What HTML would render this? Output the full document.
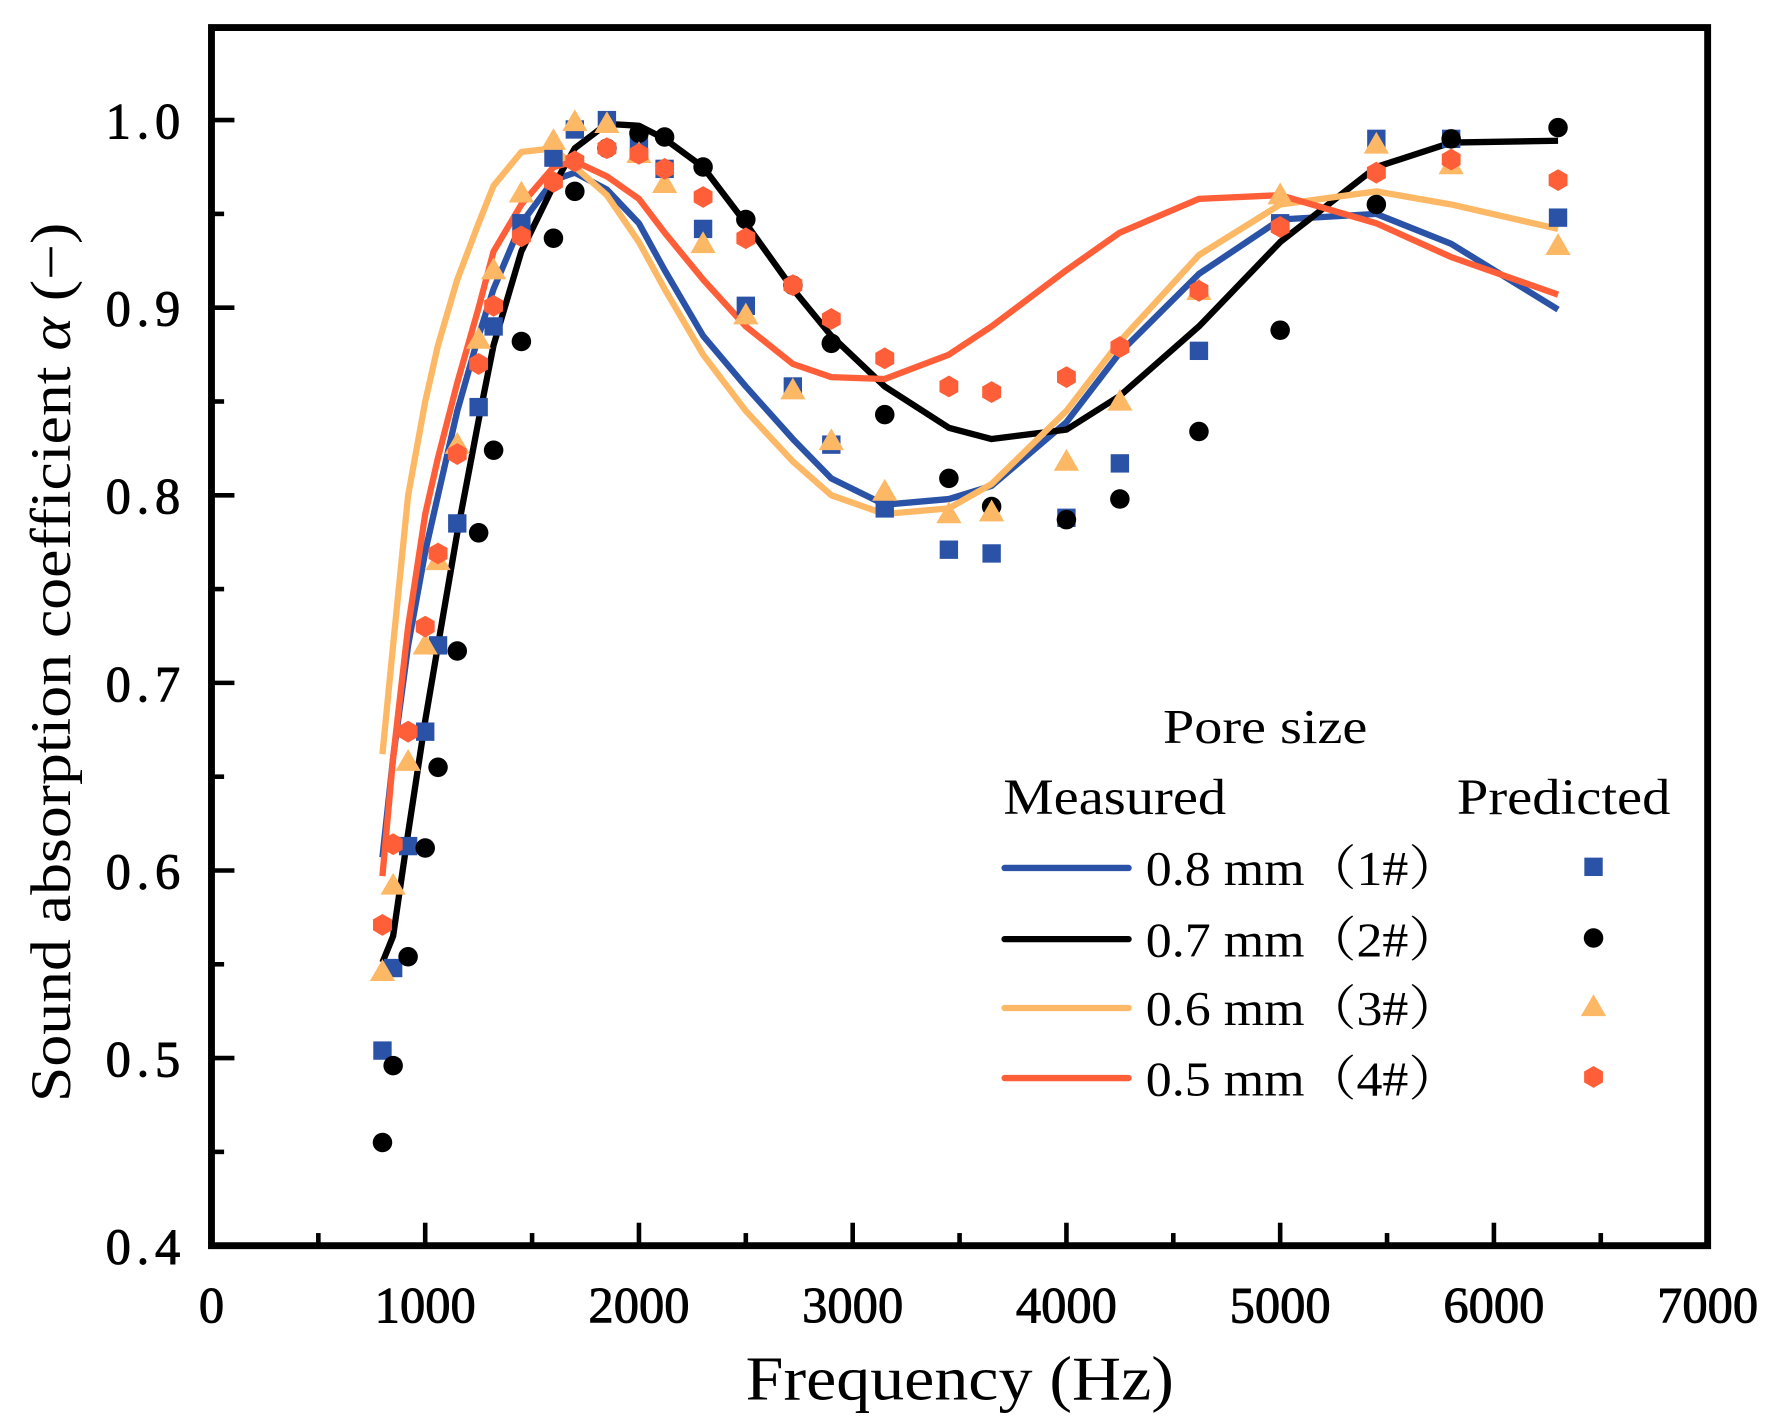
<!DOCTYPE html>
<html><head><meta charset="utf-8"><style>
html,body{margin:0;padding:0;background:#fff;}
svg{display:block;}
text{font-family:"Liberation Serif","Noto Serif CJK SC",serif;fill:#000;}
</style></head><body>
<svg id="chart" width="1791" height="1428" viewBox="0 0 1560 1243.8" preserveAspectRatio="none" xmlns="http://www.w3.org/2000/svg">
<g id="plot"></g>
<g id="axes"></g>
<text transform="translate(61,577) rotate(-90)" text-anchor="middle" font-size="50" textLength="766" lengthAdjust="spacingAndGlyphs">Sound absorption coefficient <tspan font-style="italic">α</tspan> (−)</text>
<text x="836" y="1219" text-anchor="middle" font-size="54" textLength="373" lengthAdjust="spacingAndGlyphs">Frequency (Hz)</text>
<g id="legend">
<text x="1013" y="647" font-size="42" textLength="178" lengthAdjust="spacingAndGlyphs">Pore size</text>
<text x="874" y="709" font-size="44" textLength="194" lengthAdjust="spacingAndGlyphs">Measured</text>
<text x="1269" y="709" font-size="44" textLength="186" lengthAdjust="spacingAndGlyphs">Predicted</text>
</g>
</svg>
<script>
const freqs=[800,850,920,1000,1060,1150,1250,1320,1450,1600,1700,1850,2000,2120,2300,2500,2720,2900,3150,3450,3650,4000,4250,4620,5000,5450,5800,6300];
const lineBlue=[0.607,0.66,0.72,0.77,0.80,0.845,0.885,0.91,0.945,0.968,0.972,0.963,0.945,0.92,0.885,0.858,0.83,0.809,0.795,0.798,0.805,0.839,0.876,0.918,0.947,0.95,0.934,0.899];
const lineBlack=[0.551,0.565,0.62,0.68,0.72,0.78,0.84,0.88,0.93,0.965,0.985,0.998,0.997,0.99,0.975,0.945,0.91,0.885,0.858,0.836,0.83,0.835,0.853,0.89,0.935,0.975,0.988,0.989];
const lineOrange=[0.662,0.72,0.80,0.85,0.88,0.915,0.945,0.965,0.983,0.985,0.975,0.96,0.935,0.91,0.875,0.845,0.818,0.80,0.79,0.793,0.806,0.845,0.882,0.928,0.955,0.962,0.955,0.942];
const lineRed=[0.597,0.66,0.73,0.79,0.82,0.86,0.90,0.93,0.955,0.975,0.978,0.97,0.958,0.94,0.915,0.89,0.87,0.863,0.862,0.875,0.89,0.92,0.94,0.958,0.96,0.945,0.927,0.907];
const ptBlue=[0.504,0.548,0.613,0.674,0.720,0.785,0.847,0.890,0.945,0.980,0.995,1.0,0.987,0.974,0.942,0.901,0.858,0.827,0.793,0.771,0.769,0.788,0.817,0.877,0.945,0.990,0.990,0.948];
const ptBlack=[0.455,0.496,0.554,0.612,0.655,0.717,0.780,0.824,0.882,0.937,0.962,0.985,0.993,0.991,0.975,0.947,0.912,0.881,0.843,0.809,0.794,0.787,0.798,0.834,0.888,0.955,0.990,0.996];
const ptOrange=[0.546,0.592,0.658,0.720,0.765,0.827,0.883,0.920,0.961,0.989,0.999,0.998,0.982,0.966,0.934,0.896,0.856,0.829,0.802,0.790,0.791,0.818,0.850,0.909,0.960,0.987,0.976,0.933];
const ptRed=[0.571,0.614,0.674,0.730,0.769,0.822,0.870,0.901,0.938,0.967,0.978,0.985,0.982,0.974,0.959,0.937,0.912,0.894,0.873,0.858,0.855,0.863,0.879,0.909,0.943,0.972,0.979,0.968];
const xTicks=[0,1000,2000,3000,4000,5000,6000,7000];
const yTicks=[0.4,0.5,0.6,0.7,0.8,0.9,1.0];
const yTickLabels=["0.4","0.5","0.6","0.7","0.8","0.9","1.0"];
const legendLabels=["0.8 mm（1#）","0.7 mm（2#）","0.6 mm（3#）","0.5 mm（4#）"];

const NS="http://www.w3.org/2000/svg";
const X0=184.2,X1=1487.4,Y0=1085,Ytop=24,PER=1634;
function xs(f){return X0+(f/7000)*(X1-X0);}
function ys(a){return Y0-(a-0.4)*PER;}
function mk(tag,attrs,parent){const e=document.createElementNS(NS,tag);for(const k in attrs)e.setAttribute(k,attrs[k]);parent.appendChild(e);return e;}
const plot=document.getElementById('plot'),axes=document.getElementById('axes'),legend=document.getElementById('legend');
const colors={blue:"#2a52a6",black:"#000",orange:"#fdb866",red:"#ff5f38"};
const series=[
 {name:"blue",line:lineBlue,pts:ptBlue,shape:"square"},
 {name:"black",line:lineBlack,pts:ptBlack,shape:"circle"},
 {name:"orange",line:lineOrange,pts:ptOrange,shape:"triangle"},
 {name:"red",line:lineRed,pts:ptRed,shape:"hexagon"}];
function marker(shape,cx,cy,col,parent){
 let e;
 if(shape==="square"){e=mk('rect',{x:cx-8,y:cy-8,width:16,height:16,fill:col},parent);}
 else if(shape==="circle"){e=mk('circle',{cx:cx,cy:cy,r:8.5,fill:col},parent);}
 else if(shape==="triangle"){e=mk('polygon',{points:`${cx},${cy-11} ${cx+11},${cy+8} ${cx-11},${cy+8}`,fill:col},parent);}
 else {const p=[];for(let i=0;i<6;i++){const a=Math.PI/6+i*Math.PI/3;p.push((cx+9.5*Math.cos(a)).toFixed(1)+","+(cy+9.5*Math.sin(a)).toFixed(1));}
  e=mk('polygon',{points:p.join(" "),fill:col},parent);}
 return e;
}
series.forEach(s=>{
 const d=freqs.map((f,i)=>(i?"L":"M")+xs(f).toFixed(1)+","+ys(s.line[i]).toFixed(1)).join(" ");
 const p=mk('path',{d:d,fill:"none",stroke:colors[s.name],"stroke-width":5.5,"stroke-linejoin":"round"},plot);
 
 
});
series.forEach(s=>{
 freqs.forEach((f,i)=>{
  const m=marker(s.shape,xs(f),ys(s.pts[i]),colors[s.name],plot);
  
  
 });
});
const fr=mk('rect',{x:X0,y:Ytop,width:X1-X0,height:Y0-Ytop,fill:"none",stroke:"#000","stroke-width":6},axes);


for(let f=500;f<7000;f+=500){
 const major=f%1000===0;
 const t=mk('line',{x1:xs(f),x2:xs(f),y1:Y0,y2:Y0-(major?20:11),stroke:"#000","stroke-width":4},axes);
 
 
}
xTicks.forEach(f=>{
 const t=mk('text',{x:xs(f),y:1152,"text-anchor":"middle","font-size":44,stroke:"#000","stroke-width":0.8,textLength:f===0?22:88,lengthAdjust:"spacingAndGlyphs"},axes);
 t.textContent=String(f);
 
 
});
for(let k=0;k<13;k++){
 const a=0.4+k*0.05;const major=k%2===0;
 const t=mk('line',{x1:X0,x2:X0+(major?20:11),y1:ys(a),y2:ys(a),stroke:"#000","stroke-width":4},axes);
 
 
}
yTicks.forEach((a,i)=>{
 const t=mk('text',{x:162,y:ys(a)+16,"text-anchor":"end","font-size":44,stroke:"#000","stroke-width":0.8,"letter-spacing":"5"},axes);
 t.textContent=yTickLabels[i];
 
 
});
const rowY=[756,818,878,939];
series.forEach((s,i)=>{
 const l=mk('line',{x1:875,x2:983,y1:rowY[i],y2:rowY[i],stroke:colors[s.name],"stroke-width":5.5,"stroke-linecap":"round"},legend);
 
 
 const t=mk('text',{x:998,y:rowY[i]+15,"font-size":42,textLength:274,lengthAdjust:"spacingAndGlyphs"},legend);
 t.textContent=legendLabels[i];
 
 
 const m=marker(s.shape,1388,rowY[i]-1,colors[s.name],legend);
 
 
});
</script>
</body></html>
